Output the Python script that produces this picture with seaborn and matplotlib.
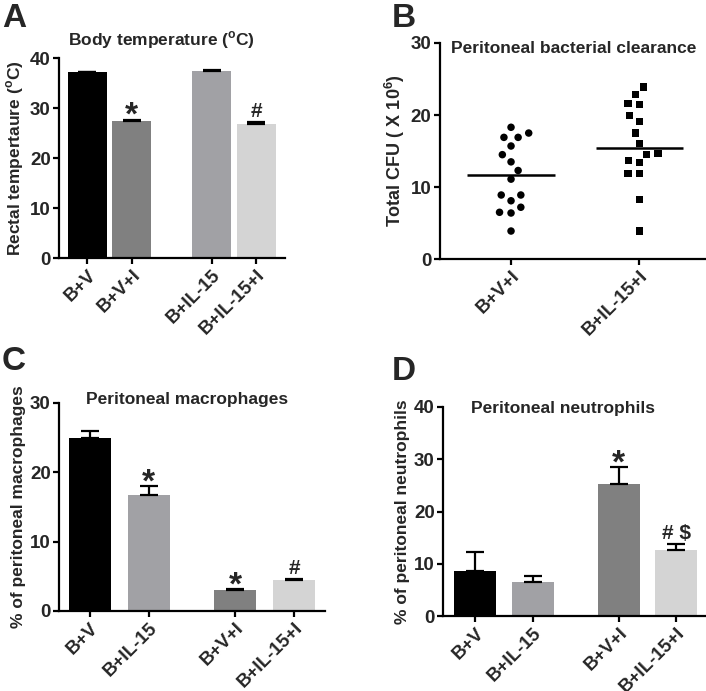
import numpy as np
import pandas as pd
import matplotlib
matplotlib.use('Agg')
import matplotlib.pyplot as plt
import seaborn as sns

# data
# A: body temperature
a_labels = ['B+V', 'B+V+I', 'B+IL-15', 'B+IL-15+I']
a_values = [37.3, 27.4, 37.5, 26.9]
a_errors = [0.0, 0.3, 0.1, 0.4]
a_marks = ['', '*', '', '#']

# B: bacterial clearance (individual animals)
b_groups = ['B+V+I', 'B+IL-15+I']
b_vi = [16.9, 17.5, 18.3, 16.9, 15.7, 14.5, 13.5, 12.3, 11.1, 8.9, 8.9, 8.1, 7.2, 6.5, 6.4, 3.9]
b_il15i = [23.9, 22.9, 21.5, 21.6, 19.9, 19.1, 17.5, 16.1, 14.5, 14.7, 13.4, 13.7, 11.9, 11.9, 8.3, 3.9]

# C: peritoneal macrophages
c_labels = ['B+V', 'B+IL-15', 'B+V+I', 'B+IL-15+I']
c_values = [25.0, 16.8, 3.0, 4.4]
c_errors = [0.9, 1.2, 0.2, 0.2]
c_marks = ['', '*', '*', '#']

# D: peritoneal neutrophils
d_labels = ['B+V', 'B+IL-15', 'B+V+I', 'B+IL-15+I']
d_values = [8.7, 6.5, 25.3, 12.6]
d_errors = [3.5, 1.2, 3.3, 1.1]
d_marks = ['', '', '*', '# $']

# colours per group
col = {'B+V': '#000000', 'B+V+I': '#808080', 'B+IL-15': '#a1a1a5', 'B+IL-15+I': '#d4d4d4'}

sns.set_style('ticks')
plt.rcParams['font.family'] = ['Liberation Sans', 'DejaVu Sans']
plt.rcParams['font.weight'] = 'bold'
plt.rcParams['axes.labelweight'] = 'bold'
plt.rcParams['mathtext.fontset'] = 'custom'
plt.rcParams['mathtext.rm'] = 'Liberation Sans:bold'
plt.rcParams['mathtext.bf'] = 'Liberation Sans:bold'

fig = plt.figure(figsize=(7.06, 6.91), dpi=100)
axA = fig.add_axes([0.0836, 0.6266, 0.3204, 0.2894])
axB = fig.add_axes([0.623, 0.625, 0.377, 0.3128])
axC = fig.add_axes([0.0836, 0.1158, 0.3764, 0.301])
axD = fig.add_axes([0.6275, 0.1085, 0.3725, 0.3025])


def style_axis(ax):
    sns.despine(ax=ax)
    for s in ['left', 'bottom']:
        ax.spines[s].set_linewidth(1.6)
        ax.spines[s].set_color('black')
    ax.tick_params(width=1.6, length=4, color='black', labelsize=13.5, pad=2)
    for t in ax.get_xticklabels() + ax.get_yticklabels():
        t.set_fontweight('bold')


def add_title(ax, text, cx, dy):
    # title baseline placed relative to the top of the axes (pixels)
    ax.annotate(text, xy=(cx, 1), xycoords='axes fraction', xytext=(0, dy),
                textcoords='offset pixels', ha='center', va='baseline',
                fontsize=12.5, fontweight='bold')


def bar_panel(ax, labels, values, errors, marks, pos, width, ymax, ylabel):
    sns.barplot(x=pos, y=values, hue=labels, palette=[col[l] for l in labels],
                native_scale=True, width=width, saturation=1, linewidth=0,
                errorbar=None, legend=False, ax=ax)
    ax.errorbar(pos, values, yerr=[np.zeros(len(values)), errors], fmt='none',
                ecolor='black', elinewidth=1.6, capsize=6.5, capthick=1.6)
    for p, v, e, m in zip(pos, values, errors, marks):
        if m == '*':
            ax.text(p, v + e - ymax * 0.06, m, ha='center', va='bottom', fontsize=24, fontweight='bold')
        elif m:
            ax.text(p, v + e + ymax * 0.005, m, ha='center', va='bottom', fontsize=15, fontweight='bold')
    ax.set_ylim(0, ymax)
    ax.set_yticks(np.arange(0, ymax + 1, 10))
    ax.set_xticks(pos)
    ax.set_xticklabels(labels, rotation=45, ha='right', rotation_mode='anchor')
    ax.set_ylabel(ylabel, fontsize=12.5, labelpad=3)
    ax.set_xlabel('')
    style_axis(ax)


# A
bar_panel(axA, a_labels, a_values, a_errors, a_marks, [0, 1, 2.8, 3.8], 0.88, 40,
          r'Rectal tempertaure ($^\mathrm{o}$C)')
axA.set_xlim(-0.64, 4.45)
add_title(axA, r'Body temperature ($^\mathrm{o}$C)', 0.451, 13)

# C
bar_panel(axC, c_labels, c_values, c_errors, c_marks, [0, 1, 2.47, 3.47], 0.71, 30,
          '% of peritoneal macrophages')
axC.set_xlim(-0.52, 3.99)
add_title(axC, 'Peritoneal macrophages', 0.481, -1)

# D
bar_panel(axD, d_labels, d_values, d_errors, d_marks, [0, 1, 2.5, 3.5], 0.73, 40,
          '% of peritoneal neutrophils')
axD.set_xlim(-0.56, 4.02)
add_title(axD, 'Peritoneal neutrophils', 0.456, -6)

# B: scatter of individual values with median line
# (invisible edge widens the swarm spacing like the original)
dfB = pd.DataFrame({'group': [b_groups[0]] * len(b_vi) + [b_groups[1]] * len(b_il15i),
                    'cfu': b_vi + b_il15i})
sns.swarmplot(data=dfB[dfB.group == b_groups[0]], x='group', y='cfu', order=b_groups,
              color='black', marker='o', size=5.4, linewidth=2.5, edgecolor='none', ax=axB)
sns.swarmplot(data=dfB[dfB.group == b_groups[1]], x='group', y='cfu', order=b_groups,
              color='black', marker='s', size=5.2, linewidth=2.5, edgecolor='none', ax=axB)
medians = dfB.groupby('group')['cfu'].median()
for i, g in enumerate(b_groups):
    axB.hlines(medians[g], i - 0.34, i + 0.34, color='black', lw=1.8)
axB.set_ylim(0, 30)
axB.set_yticks([0, 10, 20, 30])
axB.set_xlim(-0.555, 1.52)
axB.set_xticks([0, 1])
axB.set_xticklabels(b_groups, rotation=45, ha='right', rotation_mode='anchor')
axB.set_xlabel('')
axB.set_ylabel(r'Total CFU ( X 10$^\mathrm{6}$)', fontsize=13, labelpad=3)
add_title(axB, 'Peritoneal bacterial clearance', 0.504, -10)
style_axis(axB)

# panel letters
for letter, x, y in [('A', 0.003, 0.995), ('B', 0.555, 0.995), ('C', 0.003, 0.5), ('D', 0.555, 0.485)]:
    fig.text(x, y, letter, fontsize=24, fontweight='bold', va='top')

plt.savefig('out.png', dpi=100)
